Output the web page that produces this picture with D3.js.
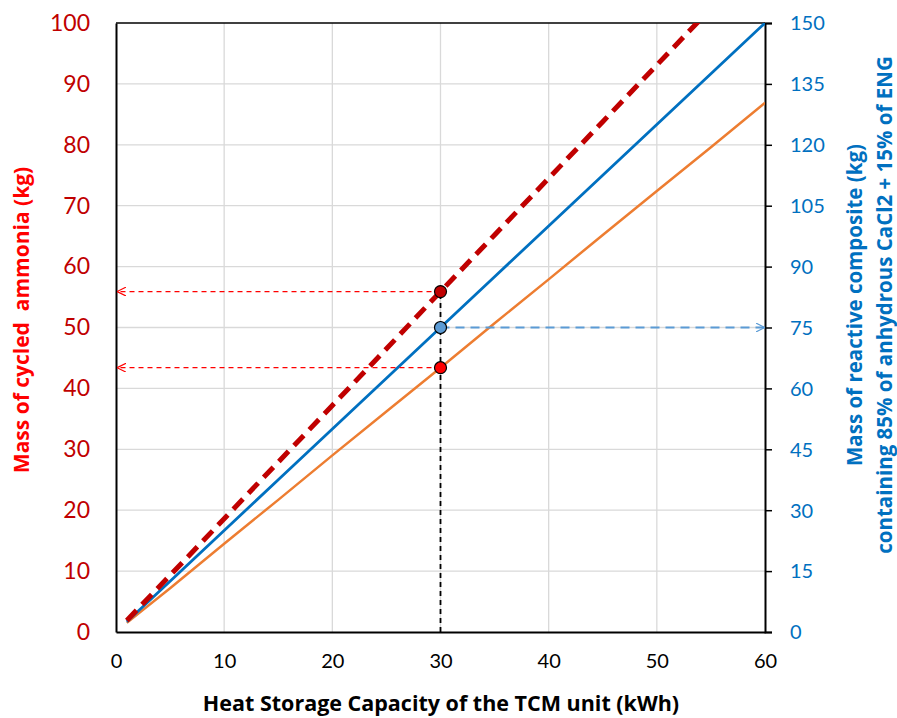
<!DOCTYPE html>
<html>
<head>
<meta charset="utf-8">
<script src="https://cdn.jsdelivr.net/npm/d3@7"></script>
<style>
  body { margin: 0; background: #fff; }
  svg { display: block; font-family: Lato, "Open Sans", sans-serif; }
</style>
</head>
<body>
<div id="chart"></div>
<script>
// values
const capacity = [1, 5, 10, 15, 20, 25, 30, 35, 40, 45, 50, 55, 60];
const ammoniaHigh = [1.9, 9.3, 18.6, 27.9, 37.2, 46.5, 55.9, 65.2, 74.5, 83.8, 93.1, 102.4, 111.7];
const ammoniaLow = [1.5, 7.2, 14.5, 21.7, 29.0, 36.2, 43.4, 50.7, 57.9, 65.2, 72.4, 79.6, 86.9];
const composite = [2.5, 12.5, 25, 37.5, 50, 62.5, 75, 87.5, 100, 112.5, 125, 137.5, 150];
const xTicks = [0, 10, 20, 30, 40, 50, 60];
const leftTicks = [0, 10, 20, 30, 40, 50, 60, 70, 80, 90, 100];
const rightTicks = [0, 15, 30, 45, 60, 75, 90, 105, 120, 135, 150];
const designPoint = { x: 30, high: 55.9, low: 43.4, composite: 75 };

const W = 897, H = 718;
const margin = { top: 23, right: 132, bottom: 86, left: 116 };
const width = W - margin.left - margin.right;
const height = H - margin.top - margin.bottom;
const titleFont = '"Open Sans", Lato, sans-serif';

const svg = d3.select('#chart').append('svg').attr('width', W).attr('height', H);
const defs = svg.append('defs');
const g = svg.append('g').attr('transform', 'translate(' + margin.left + ',' + margin.top + ')');

defs.append('clipPath').attr('id', 'clip')
    .append('rect').attr('width', width).attr('height', height);

const x = d3.scaleLinear().domain([0, 60]).range([0, width]);
const yL = d3.scaleLinear().domain([0, 100]).range([height, 0]);
const yR = d3.scaleLinear().domain([0, 150]).range([height, 0]);

// grid
g.append('g').selectAll('line').data(xTicks.slice(1, -1)).join('line')
    .attr('x1', d => x(d)).attr('x2', d => x(d)).attr('y1', 0).attr('y2', height)
    .attr('stroke', '#d9d9d9').attr('stroke-width', 1.3);
g.append('g').selectAll('line').data(leftTicks.slice(1, -1)).join('line')
    .attr('y1', d => yL(d)).attr('y2', d => yL(d)).attr('x1', 0).attr('x2', width)
    .attr('stroke', '#d9d9d9').attr('stroke-width', 1.3);

// top border
g.append('line').attr('x1', 0).attr('x2', width).attr('y1', 0).attr('y2', 0)
    .attr('stroke', '#000').attr('stroke-width', 1.5);

// axes
const xAxis = g.append('g').attr('transform', 'translate(0,' + height + ')')
    .call(d3.axisBottom(x).tickValues(xTicks).tickSize(0).tickPadding(22));
const leftAxis = g.append('g')
    .call(d3.axisLeft(yL).tickValues(leftTicks).tickSize(0).tickPadding(26));
const rightAxis = g.append('g').attr('transform', 'translate(' + width + ',0)')
    .call(d3.axisRight(yR).tickValues(rightTicks).tickSize(7).tickPadding(18));

[xAxis, leftAxis, rightAxis].forEach(a => {
    a.select('.domain').attr('stroke', '#000').attr('stroke-width', 2);
    a.selectAll('.tick line').attr('stroke', '#000').attr('stroke-width', 1.5);
    a.selectAll('text').attr('font-family', 'Lato, "Open Sans", sans-serif');
});
xAxis.selectAll('text').attr('font-size', 20).attr('fill', '#000');
leftAxis.selectAll('text').attr('font-size', 23).attr('fill', '#c00000');
rightAxis.selectAll('text').attr('font-size', 20).attr('fill', '#0070c0').attr('dy', '0.34em');

// series
const rows = capacity.map((c, i) => ({ c, hi: ammoniaHigh[i], lo: ammoniaLow[i], comp: composite[i] }));
const plot = g.append('g').attr('clip-path', 'url(#clip)');

plot.append('path').datum(rows)
    .attr('d', d3.line().x(d => x(d.c)).y(d => yL(d.lo)))
    .attr('fill', 'none').attr('stroke', '#ed7d31').attr('stroke-width', 2.5);
plot.append('path').datum(rows)
    .attr('d', d3.line().x(d => x(d.c)).y(d => yR(d.comp)))
    .attr('fill', 'none').attr('stroke', '#0070c0').attr('stroke-width', 2.8);
plot.append('path').datum(rows)
    .attr('d', d3.line().x(d => x(d.c)).y(d => yL(d.hi)))
    .attr('fill', 'none').attr('stroke', '#c00000').attr('stroke-width', 5)
    .attr('stroke-dasharray', '14,8').attr('stroke-linecap', 'butt');

// arrow markers
function marker(id, color) {
    defs.append('marker').attr('id', id).attr('viewBox', '0 0 10 10')
        .attr('refX', 9).attr('refY', 5).attr('markerWidth', 9).attr('markerHeight', 9)
        .attr('markerUnits', 'userSpaceOnUse').attr('orient', 'auto')
        .append('path').attr('d', 'M0,0 L10,5 L0,10').attr('fill', 'none')
        .attr('stroke', color).attr('stroke-width', 1.3);
}
marker('arRed', '#ff0000');
marker('arBlue', '#5b9bd5');

// guide lines
g.append('line')
    .attr('x1', x(designPoint.x)).attr('x2', x(designPoint.x))
    .attr('y1', height).attr('y2', yL(designPoint.high))
    .attr('stroke', '#000').attr('stroke-width', 1.8).attr('stroke-dasharray', '5,4');
[designPoint.high, designPoint.low].forEach(v => {
    g.append('line')
        .attr('x1', x(designPoint.x)).attr('x2', x(0) + 2)
        .attr('y1', yL(v)).attr('y2', yL(v))
        .attr('stroke', '#ff0000').attr('stroke-width', 1.3).attr('stroke-dasharray', '5,4')
        .attr('marker-end', 'url(#arRed)');
});
g.append('line')
    .attr('x1', x(designPoint.x)).attr('x2', width - 1)
    .attr('y1', yR(designPoint.composite)).attr('y2', yR(designPoint.composite))
    .attr('stroke', '#5b9bd5').attr('stroke-width', 2).attr('stroke-dasharray', '9,6')
    .attr('marker-end', 'url(#arBlue)');

// points
const pts = [
    { y: yL(designPoint.high), fill: '#c00000' },
    { y: yR(designPoint.composite), fill: '#5b9bd5' },
    { y: yL(designPoint.low), fill: '#ff0000' }
];
g.selectAll('circle.pt').data(pts).join('circle').attr('class', 'pt')
    .attr('cx', x(designPoint.x)).attr('cy', d => d.y).attr('r', 6)
    .attr('fill', d => d.fill).attr('stroke', '#000').attr('stroke-width', 1.2);

// titles
svg.append('text')
    .attr('x', 441).attr('y', 711)
    .attr('text-anchor', 'middle').attr('font-weight', 'bold').attr('font-size', 21.5)
    .attr('font-family', titleFont)
    .text('Heat Storage Capacity of the TCM unit (kWh)');
svg.append('text')
    .attr('transform', 'translate(29,' + 320 + ') rotate(-90)')
    .attr('text-anchor', 'middle').attr('font-weight', 'bold').attr('font-size', 21)
    .attr('font-family', titleFont)
    .attr('fill', '#ff0000').attr('xml:space', 'preserve')
    .text('Mass of cycled  ammonia (kg)');
const rt = svg.append('text')
    .attr('transform', 'translate(862,' + 305 + ') rotate(-90)')
    .attr('text-anchor', 'middle').attr('font-weight', 'bold').attr('font-size', 20.5)
    .attr('font-family', titleFont)
    .attr('fill', '#0070c0');
rt.append('tspan').attr('x', 0).attr('dy', 0).text('Mass of reactive composite (kg)');
rt.append('tspan').attr('x', 0).attr('dy', 30).text('containing 85% of anhydrous CaCl2 + 15% of ENG');
</script>
</body>
</html>
